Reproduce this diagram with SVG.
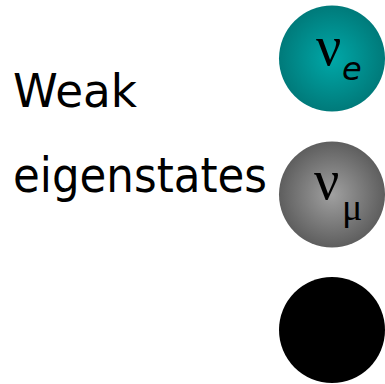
<svg xmlns="http://www.w3.org/2000/svg" width="385" height="384" viewBox="0 0 385 384">
<style>
.lbl{font-family:"DejaVu Sans","Liberation Sans",sans-serif;fill:#000}
.nu{font-family:"Liberation Serif","DejaVu Serif",serif;fill:#000}
</style>
<defs>
<radialGradient id="gTeal" cx="0.5" cy="0.5" r="0.5">
<stop offset="0" stop-color="#00a8a8"/>
<stop offset="1" stop-color="#007a7a"/>
</radialGradient>
<radialGradient id="gGrey" cx="0.5" cy="0.5" r="0.5">
<stop offset="0" stop-color="#a0a0a0"/>
<stop offset="1" stop-color="#5e5e5e"/>
</radialGradient>
</defs>
<rect width="385" height="384" fill="#fff"/>
<g id="title">
<text class="lbl" x="13" y="107" font-size="46" textLength="124" lengthAdjust="spacingAndGlyphs">Weak</text>
<text class="lbl" x="13" y="192" font-size="48" textLength="254" lengthAdjust="spacingAndGlyphs">eigenstates</text>
</g>
<g id="nu_e">
<circle cx="332" cy="58.5" r="53" fill="url(#gTeal)"/>
<text class="nu" x="316" y="65" font-size="56">ν</text>
<text class="lbl" x="342" y="80" font-size="32" font-style="italic">e</text>
</g>
<g id="nu_mu">
<circle cx="332" cy="194.5" r="53" fill="url(#gGrey)"/>
<text class="nu" x="314" y="199" font-size="56">ν</text>
<text class="nu" x="342" y="220" font-size="38">μ</text>
</g>
<g id="nu_tau">
<circle cx="332" cy="330" r="53" fill="#000"/>
</g>
<g id="connectors"/>
</svg>
